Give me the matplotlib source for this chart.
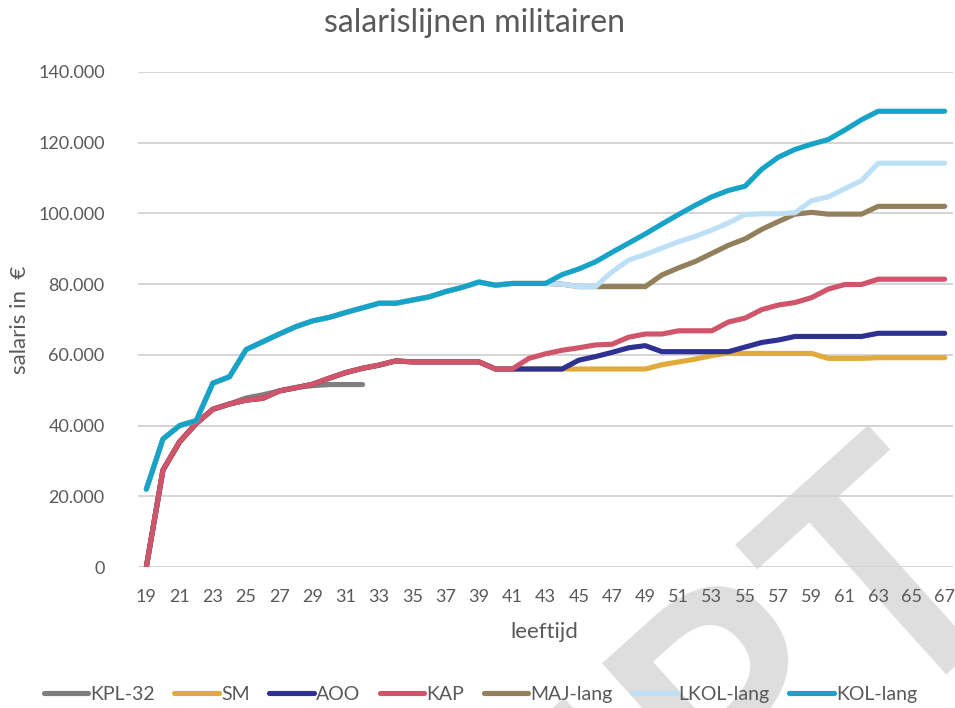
import matplotlib
matplotlib.use("Agg")
import matplotlib.pyplot as plt
from matplotlib.ticker import FuncFormatter, MultipleLocator
import numpy as np

ages = list(range(19, 68))

kpl32 = [0, 27400, 35400, 40600, 44600, 46100, 47800, 48700, 49800, 50800,
         51300, 51600, 51600, 51600] + [None] * 35

sm = [0, 27400, 35400, 40600, 44600, 46100, 47200, 47700, 49800, 50700,
      51700, 53400, 55000, 56200, 57100, 58300, 58000, 58000, 58000, 58000,
      58000, 56000, 56000, 56000, 56000, 56000, 56000, 56000, 56000, 56000,
      56000, 57200, 58000, 58800, 59800, 60500, 60400, 60400, 60400, 60400,
      60400, 59000, 59000, 59000, 59200, 59200, 59200, 59200, 59200]

aoo = [0, 27400, 35400, 40600, 44600, 46100, 47200, 47700, 49800, 50700,
       51700, 53400, 55000, 56200, 57100, 58300, 58000, 58000, 58000, 58000,
       58000, 56000, 56000, 56000, 56000, 56000, 58500, 59500, 60700, 62000,
       62600, 60900, 60900, 60900, 60900, 60900, 62200, 63500, 64200, 65200,
       65200, 65200, 65200, 65200, 66100, 66100, 66100, 66100, 66100]

kap = [0, 27400, 35400, 40600, 44600, 46100, 47200, 47700, 49800, 50700,
       51700, 53400, 55000, 56200, 57100, 58300, 58000, 58000, 58000, 58000,
       58000, 56000, 56000, 59000, 60300, 61300, 62000, 62800, 63000, 65000,
       65900, 65900, 66800, 66800, 66800, 69300, 70400, 72800, 74100, 74800,
       76200, 78600, 79900, 79900, 81400, 81400, 81400, 81400, 81400]

maj_lang = [22000, 36200, 40000, 41400, 52000, 53800, 61500, 63700, 65900, 68000,
            69600, 70600, 72000, 73300, 74600, 74600, 75500, 76400, 77900, 79100,
            80600, 79700, 80200, 80200, 80200, 80000, 79300, 79300, 79300, 79300,
            79300, 82600, 84600, 86400, 88700, 91000, 92800, 95500, 97700, 99800,
            100300, 99800, 99800, 99800, 102000, 102000, 102000, 102000, 102000]

lkol_lang = [22000, 36200, 40000, 41400, 52000, 53800, 61500, 63700, 65900, 68000,
             69600, 70600, 72000, 73300, 74600, 74600, 75500, 76400, 77900, 79100,
             80600, 79700, 80200, 80200, 80200, 80000, 79300, 79300, 83500, 86800,
             88400, 90200, 92000, 93500, 95300, 97300, 99700, 99900, 99900, 100200,
             103600, 104700, 107000, 109300, 114200, 114200, 114200, 114200, 114200]

kol_lang = [22000, 36200, 40000, 41400, 52000, 53800, 61500, 63700, 65900, 68000,
            69600, 70600, 72000, 73300, 74600, 74600, 75500, 76400, 77900, 79100,
            80600, 79700, 80200, 80200, 80200, 82700, 84300, 86300, 89000, 91600,
            94200, 97000, 99700, 102300, 104700, 106500, 107700, 112500, 115900, 118100,
            119600, 120900, 123600, 126500, 128900, 128900, 128900, 128900, 128900]

series_names = ["KPL-32", "SM", "AOO", "KAP", "MAJ-lang", "LKOL-lang", "KOL-lang"]
series_data = [kpl32, sm, aoo, kap, maj_lang, lkol_lang, kol_lang]
colors = ["#7f7f7f", "#e1ab3c", "#2e3192", "#d0546a", "#927f5c", "#bde0f6", "#17a3c7"]

title = "salarislijnen militairen"
xlabel = "leeftijd"
ylabel = "salaris in  €"
watermark = "CONCEPT"

text_color = "#595959"
grid_color = "#d4d4d4"
font = ["Lato", "DejaVu Sans"]
plt.rcParams["font.family"] = font

fig = plt.figure(figsize=(9.55, 7.08), dpi=100)
ax = fig.add_axes([138 / 955, 1 - 567 / 708, (953 - 138) / 955, (567 - 72) / 708])
ax.set_facecolor("none")

for name, vals, col in zip(series_names, series_data, colors):
    y = np.array([np.nan if v is None else v for v in vals], dtype=float)
    ax.plot(ages, y, color=col, lw=3.7, label=name,
            solid_capstyle="round", solid_joinstyle="round", zorder=3)

ax.set_xlim(18.5, 67.5)
ax.set_ylim(0, 140000)
ax.set_xticks(list(range(19, 68, 2)))
ax.yaxis.set_major_locator(MultipleLocator(20000))
ax.yaxis.set_major_formatter(FuncFormatter(lambda v, p: f"{int(v):,}".replace(",", ".")))
ax.grid(axis="y", color=grid_color, lw=1.4, zorder=1)
ax.set_axisbelow(True)
for s in ax.spines.values():
    s.set_visible(False)
ax.tick_params(axis="both", length=0, labelsize=13, labelcolor=text_color)
ax.tick_params(axis="x", pad=16)
ax.tick_params(axis="y", pad=24)

fig.text(0.497, 0.968, title, ha="center", va="center", fontsize=23, color=text_color)
fig.text(0.570, 0.107, xlabel, ha="center", va="center", fontsize=16, color=text_color)
fig.text(0.021, 0.548, ylabel, ha="center", va="center", rotation=90, fontsize=16, color=text_color)

leg = fig.legend(loc="center", bbox_to_anchor=(0.503, 0.019), ncol=7, frameon=False,
                 fontsize=14, handlelength=2.3, handletextpad=0.1, columnspacing=1.0,
                 labelcolor=text_color)
for h in leg.legend_handles:
    h.set_linewidth(3.7)

fig.text(1.075, 0.175, watermark, ha="right", va="baseline", rotation=42,
         rotation_mode="anchor", fontsize=240, fontweight="semibold", color="#dedede",
         family=["Open Sans", "DejaVu Sans"], zorder=-1)

fig.savefig("out.png", dpi=100)
